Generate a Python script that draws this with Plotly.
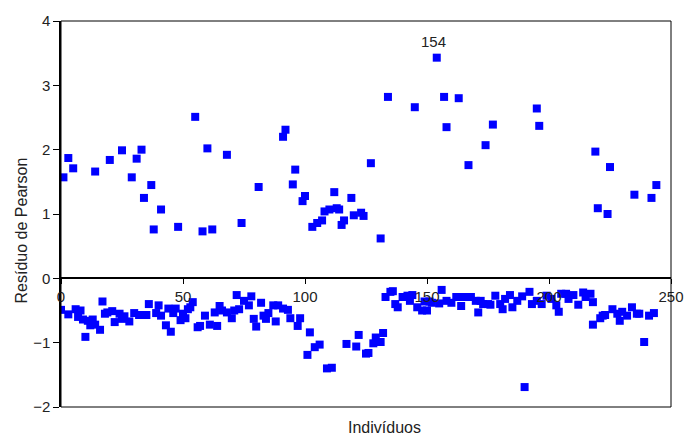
import plotly.graph_objects as go

# Pearson residuals by individual: positive residuals
ind_pos = [1, 3, 5, 14, 20, 25, 29, 31, 33, 34, 37, 38, 41, 48, 55, 58, 60, 62, 68, 74,
           81, 91, 92, 95, 96, 99, 100, 103, 105, 107, 108, 110, 112, 113, 114, 115, 116,
           119, 120, 123, 124, 127, 131, 134, 145, 154, 157, 158, 163, 167, 174, 177, 195,
           196, 219, 220, 224, 225, 235, 242, 244]
res_pos = [1.57, 1.87, 1.71, 1.66, 1.84, 1.99, 1.57, 1.86, 2.00, 1.25, 1.45, 0.76, 1.07,
           0.80, 2.51, 0.73, 2.02, 0.76, 1.92, 0.86, 1.42, 2.20, 2.31, 1.46, 1.69, 1.20,
           1.28, 0.80, 0.86, 0.90, 1.04, 1.07, 1.34, 1.09, 1.07, 0.83, 0.90, 1.25, 0.98,
           1.02, 0.97, 1.79, 0.62, 2.82, 2.66, 3.43, 2.82, 2.35, 2.80, 1.76, 2.07, 2.39,
           2.64, 2.37, 1.97, 1.09, 1.00, 1.73, 1.30, 1.25, 1.45]

# negative residuals
ind_neg = [0, 3, 6, 7, 8, 9, 10, 11, 12, 13, 14, 16, 17, 18, 19, 21, 22, 24, 25, 26, 28,
           30, 32, 34, 35, 36, 39, 40, 41, 43, 44, 45, 46, 47, 49, 50, 51, 52, 53, 54, 56,
           57, 59, 61, 63, 64, 65, 66, 68, 70, 71, 72, 73, 75, 77, 78, 79, 80, 82, 83, 84,
           85, 87, 88, 89, 91, 93, 94, 97, 98, 101, 102, 104, 106, 109, 111, 117, 121, 122,
           125, 126, 128, 129, 131, 132, 133, 135, 136, 137, 138, 140, 142, 143, 144, 146,
           148, 149, 150, 151, 152, 155, 156, 158, 160, 162, 164, 165, 168, 170, 171, 172,
           173, 175, 176, 178, 180, 181, 182, 184, 185, 187, 189, 190, 192, 193, 195, 197,
           199, 201, 203, 204, 205, 207, 208, 210, 212, 214, 215, 217, 218, 218, 221, 222,
           223, 226, 228, 229, 230, 232, 234, 236, 237, 239, 241, 243]
res_neg = [-0.49, -0.56, -0.48, -0.60, -0.50, -0.64, -0.91, -0.66, -0.73, -0.64, -0.72,
           -0.80, -0.36, -0.55, -0.53, -0.51, -0.68, -0.55, -0.63, -0.59, -0.67, -0.54,
           -0.57, -0.57, -0.57, -0.40, -0.54, -0.42, -0.58, -0.73, -0.47, -0.83, -0.54,
           -0.47, -0.65, -0.55, -0.62, -0.48, -0.45, -0.37, -0.76, -0.74, -0.58, -0.72,
           -0.53, -0.74, -0.43, -0.50, -0.53, -0.62, -0.50, -0.26, -0.48, -0.35, -0.42,
           -0.28, -0.63, -0.75, -0.38, -0.58, -0.63, -0.54, -0.42, -0.67, -0.42, -0.47,
           -0.49, -0.62, -0.74, -0.62, -1.19, -0.84, -1.07, -1.03, -1.40, -1.39, -1.02,
           -1.06, -0.88, -1.17, -1.16, -1.01, -0.92, -0.99, -0.85, -0.29, -0.21, -0.20,
           -0.40, -0.45, -0.29, -0.27, -0.35, -0.26, -0.45, -0.50, -0.36, -0.50, -0.36,
           -0.38, -0.39, -0.18, -0.35, -0.38, -0.29, -0.43, -0.29, -0.29, -0.35, -0.53,
           -0.35, -0.40, -0.40, -0.41, -0.27, -0.40, -0.48, -0.32, -0.26, -0.45, -0.35,
           -0.28, -1.69, -0.21, -0.40, -0.35, -0.40, -0.27, -0.32, -0.42, -0.52, -0.24,
           -0.24, -0.32, -0.26, -0.41, -0.22, -0.29, -0.24, -0.37, -0.72, -0.62, -0.58,
           -0.57, -0.48, -0.55, -0.66, -0.52, -0.58, -0.45, -0.55, -0.55, -0.99, -0.58,
           -0.54]

x_ticks = [0, 50, 100, 150, 200, 250]
y_ticks = [-2, -1, 0, 1, 2, 3, 4]
highlight = 154

individuos = ind_neg + ind_pos
residuos = res_neg + res_pos

FONT = "Liberation Sans, Arial, sans-serif"

fig = go.Figure()
fig.add_trace(go.Scatter(
    x=individuos, y=residuos, mode="markers",
    marker=dict(symbol="square", size=8, color="#0000FF",
                line=dict(width=0)),
    hoverinfo="x+y", showlegend=False,
))

hy = res_pos[ind_pos.index(highlight)]
fig.add_annotation(x=highlight, y=hy, text=str(highlight), showarrow=False,
                   yshift=16, xshift=-3, font=dict(size=15, color="#222"))

fig.update_layout(
    width=696, height=437,
    margin=dict(l=61, r=18, t=20, b=30),
    paper_bgcolor="white", plot_bgcolor="white",
    font=dict(family=FONT, size=15, color="#222"),
    xaxis=dict(range=[0, 250], tickvals=x_ticks, showgrid=False, zeroline=False,
               showline=True, linecolor="black", linewidth=1.5,
               ticks="outside", ticklen=5, tickcolor="black",
               anchor="free", position=1 / 3),
    yaxis=dict(range=[-2, 4], tickvals=y_ticks, showgrid=False, zeroline=False,
               showline=True, linecolor="black", linewidth=1.5,
               ticks="outside", ticklen=6, tickcolor="black"),
    shapes=[dict(type="rect", xref="paper", yref="paper", x0=0, x1=1, y0=0, y1=1,
                 line=dict(color="black", width=1), layer="above")],
)

fig.add_annotation(xref="paper", yref="paper", x=(388 - 61) / 617, y=0,
                   yanchor="middle", yshift=-20, text="Indivíduos", showarrow=False,
                   font=dict(size=16))
fig.add_annotation(xref="paper", yref="paper", x=0, xanchor="center", xshift=-40,
                   y=(407 - 230) / 387, text="Resíduo de Pearson", textangle=-90,
                   showarrow=False, font=dict(size=16))

fig.write_html("out.html")
